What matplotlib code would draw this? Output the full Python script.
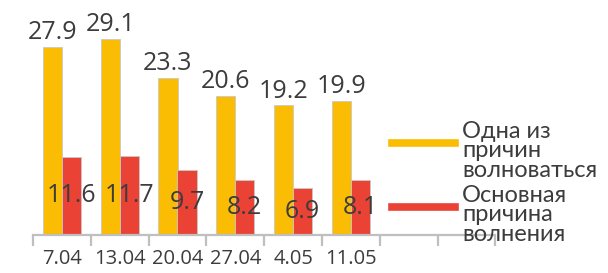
import matplotlib
matplotlib.use("Agg")
import matplotlib.pyplot as plt
from matplotlib.lines import Line2D

categories = ["7.04", "13.04", "20.04", "27.04", "4.05", "11.05"]
one_of = [27.9, 29.1, 23.3, 20.6, 19.2, 19.9]
main = [11.6, 11.7, 9.7, 8.2, 6.9, 8.1]
series_names = ["Одна из\nпричин\nволноваться", "Основная\nпричина\nволнения"]
n_slots = 8

YELLOW = "#FBBC04"
RED = "#EA4335"
TXT = "#3c3c3c"
GRID = "#bfbfbf"

W, H = 608, 273
fig = plt.figure(figsize=(W / 100, H / 100), dpi=100)
ax = fig.add_axes([33 / W, (H - 235) / H, 462.4 / W, 229.5 / H])
ax.set_xlim(-0.5, n_slots - 0.5)
ax.set_ylim(0, 34)

bw = 0.33
x = list(range(len(categories)))
xy = [i - bw / 2 for i in x]
xr = [i + bw / 2 for i in x]
ax.bar(xy, one_of, width=bw, color=YELLOW, edgecolor="#c8c8c8", linewidth=0.6, zorder=2)
ax.bar(xr, main, width=bw, color=RED, edgecolor="#c8c8c8", linewidth=0.6, zorder=2)

for xi, v in zip(xy, one_of):
    ax.annotate(f"{v}", (xi, v), xytext=(0, 5.5), textcoords="offset points",
                ha="center", va="baseline", fontsize=18, color=TXT, family="Open Sans", zorder=3)
for xi, v in zip(xr, main):
    ax.text(xi, v / 2, f"{v}", ha="center", va="center", fontsize=18, color=TXT,
            family="Open Sans", zorder=3)

for s in ["top", "right", "left"]:
    ax.spines[s].set_visible(False)
ax.spines["bottom"].set_color(GRID)
ax.spines["bottom"].set_linewidth(1.6)
ax.set_yticks([])
ax.set_xticks(x)
ax.set_xticklabels(categories, fontsize=14.5, color=TXT, family="Open Sans")
ax.tick_params(axis="x", which="major", length=0, pad=10)
ax.set_xticks([i - 0.5 for i in range(n_slots + 1)], minor=True)
ax.tick_params(axis="x", which="minor", length=8, width=1.6, color=GRID)

# legend
fig.add_artist(Line2D([392 / W, 455 / W], [1 - 143 / H, 1 - 143 / H], color=YELLOW, lw=5.5))
fig.add_artist(Line2D([392 / W, 455 / W], [1 - 207 / H, 1 - 207 / H], color=RED, lw=5.5))
fig.text(462 / W, 1 - 121 / H, series_names[0], ha="left", va="top", fontsize=17,
         color=TXT, family="Lato", linespacing=0.9)
fig.text(462 / W, 1 - 185 / H, series_names[1], ha="left", va="top", fontsize=17,
         color=TXT, family="Lato", linespacing=0.9)

fig.savefig("out.png", dpi=100)
